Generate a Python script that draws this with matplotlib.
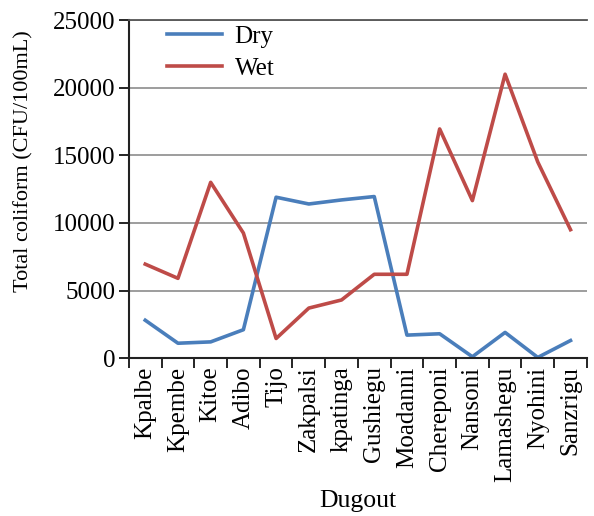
import numpy as np
import matplotlib.pyplot as plt
from matplotlib.ticker import FixedLocator

plt.rcParams['font.family'] = ['Liberation Serif', 'DejaVu Serif']

dugouts = ["Kpalbe", "Kpembe", "Kitoe", "Adibo", "Tijo", "Zakpalsi", "kpatinga",
           "Gushiegu", "Moadanni", "Chereponi", "Nansoni", "Lamashegu", "Nyohini", "Sanzrigu"]
dry = [2800, 1100, 1200, 2100, 11900, 11400, 11700, 11950, 1700, 1800, 100, 1900, 50, 1300]
wet = [6950, 5900, 13000, 9250, 1450, 3700, 4300, 6200, 6200, 16950, 11650, 21000, 14500, 9500]

fig = plt.figure(figsize=(5.94, 5.16), dpi=100)
ax = fig.add_axes([0.217, 0.306, 0.771, 0.655])

x = np.arange(len(dugouts))
ax.plot(x, dry, color="#4A7EBB", lw=2.6, label="Dry")
ax.plot(x, wet, color="#BE4B48", lw=2.6, label="Wet")

ax.set_xlim(-0.5, len(dugouts) - 0.5)
ax.set_ylim(0, 25000)
ax.set_yticks(range(0, 25001, 5000))
ax.set_xticks(x)
ax.set_xticklabels(dugouts, rotation=90, fontsize=18)
ax.xaxis.set_minor_locator(FixedLocator(np.arange(-0.5, len(dugouts), 1)))
ax.tick_params(axis="x", which="major", length=0, pad=6)
ax.tick_params(axis="x", which="minor", length=7, width=1.2, direction="out")
ax.tick_params(axis="y", length=7, width=1.2, labelsize=18, pad=3)

ax.yaxis.grid(True, color="#8c8c8c", lw=1.2)
ax.set_axisbelow(True)
for s in ["left", "bottom"]:
    ax.spines[s].set_linewidth(1.5)
    ax.spines[s].set_color("#222222")
ax.spines["right"].set_visible(False)
ax.spines["top"].set_color("#555555")
ax.spines["top"].set_linewidth(1.3)

ax.set_ylabel("Total coliform (CFU/100mL)", fontsize=16, va="center")
ax.yaxis.set_label_coords(-0.229, 0.583)
ax.set_xlabel("Dugout", fontsize=18.5, labelpad=6)

ax.legend(loc="upper left", frameon=False, fontsize=18, handlelength=2.2,
          handletextpad=0.5, borderpad=0, borderaxespad=0, labelspacing=0.4,
          bbox_to_anchor=(167 / 594, 1 - 25 / 516), bbox_transform=fig.transFigure)

fig.savefig("out.png", dpi=100)
